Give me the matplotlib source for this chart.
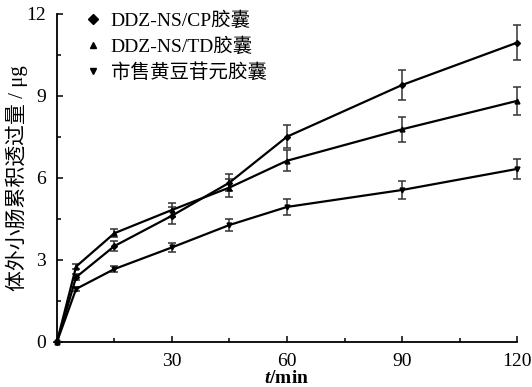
import numpy as np
import matplotlib
matplotlib.use("Agg")
import matplotlib.pyplot as plt
from matplotlib.ticker import MultipleLocator

plt.rcParams['font.family'] = ['Liberation Serif', 'Noto Sans CJK SC']
plt.rcParams['mathtext.fontset'] = 'custom'
plt.rcParams['mathtext.rm'] = 'Liberation Serif:bold'
plt.rcParams['mathtext.it'] = 'Liberation Serif:italic:bold'

# temps (min)
t = [0, 5, 15, 30, 45, 60, 90, 120]

# DDZ-NS/CP 胶囊
cp = [0, 2.37, 3.51, 4.62, 5.83, 7.51, 9.40, 10.95]
cp_err = [0, 0.10, 0.17, 0.30, 0.30, 0.41, 0.54, 0.63]

# DDZ-NS/TD 胶囊
td = [0, 2.76, 3.98, 4.83, 5.65, 6.63, 7.78, 8.82]
td_err = [0, 0.10, 0.15, 0.25, 0.33, 0.38, 0.45, 0.50]

# 市售黄豆苷元胶囊
std = [0, 1.94, 2.67, 3.46, 4.28, 4.94, 5.56, 6.33]
std_err = [0, 0.08, 0.10, 0.17, 0.23, 0.29, 0.32, 0.36]

labels = ["DDZ-NS/CP胶囊", "DDZ-NS/TD胶囊", "市售黄豆苷元胶囊"]

fig = plt.figure(figsize=(5.32, 3.87), dpi=100)
ax = fig.add_axes([0.107, 0.1163, 0.865, 0.8477])

series = [(cp, cp_err, 'D', 3), (td, td_err, '^', 3.5), (std, std_err, 'v', 3.5)]
handles = []
for (y, e, m, ms), lab in zip(series, labels):
    ax.errorbar(t, y, yerr=e, color='black', ecolor='#333333', elinewidth=1.1,
                capsize=3, capthick=1.1, linewidth=1.6, marker=m, markersize=ms,
                clip_on=False, zorder=3)
    h, = ax.plot([], [], linestyle='none', marker=m, color='black', markersize=5)
    handles.append(h)

ax.set_xlim(0, 120)
ax.set_ylim(0, 12)
ax.set_xticks([30, 60, 90, 120])
ax.xaxis.set_minor_locator(MultipleLocator(15))
ax.set_yticks([0, 3, 6, 9, 12])
ax.yaxis.set_minor_locator(MultipleLocator(1.5))
ax.tick_params(which='both', direction='in', width=1.1)
ax.tick_params(which='major', length=4, labelsize=14, pad=8)
ax.tick_params(which='minor', length=3)
ax.spines['top'].set_visible(False)
ax.spines['right'].set_visible(False)
ax.spines['left'].set_linewidth(1.3)
ax.spines['bottom'].set_linewidth(1.3)

ax.set_xlabel(r'$\mathit{t}$/min', fontsize=14, fontweight='bold', labelpad=0)
ax.set_ylabel('体外小肠累积透过量 / μg', fontsize=15, va='center')
ax.yaxis.set_label_coords(-0.087, 0.5)

ax.legend(handles, labels, loc='upper left', bbox_to_anchor=(0.02, 1.062),
          frameon=False, fontsize=14, handlelength=1.0, handletextpad=0.4,
          labelspacing=0.4)

fig.savefig("out.png", dpi=100)
